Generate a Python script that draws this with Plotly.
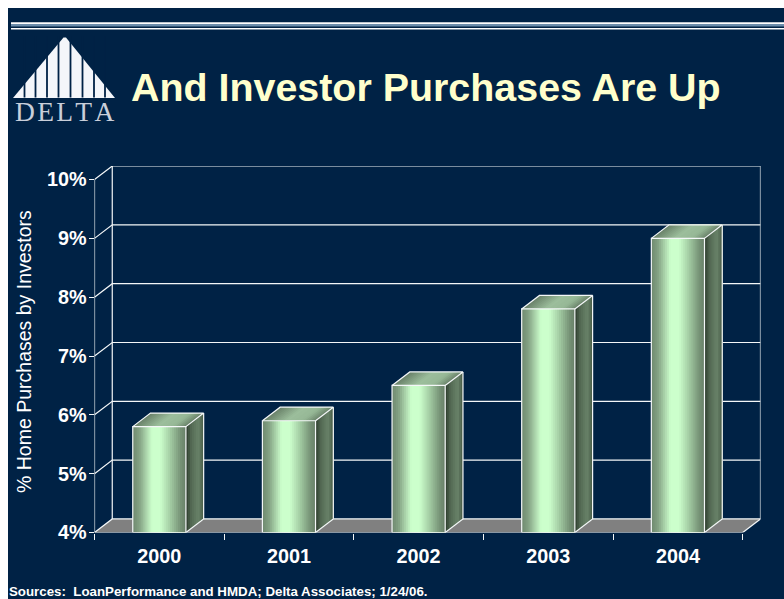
import plotly.graph_objects as go

W, H = 784, 599
NAVY = "#002245"
LINE = "#F4F7F8"

# Chart data
years = ["2000", "2001", "2002", "2003", "2004"]
investor_share = [5.8, 5.9, 6.5, 7.8, 9.0]
y_ticks = [4, 5, 6, 7, 8, 9, 10]
y_tick_labels = ["4%", "5%", "6%", "7%", "8%", "9%", "10%"]

# Oblique projection of the chart box, in axis units
BAR_WIDTH = 0.41
DEPTH_X = 0.137
DEPTH_Y = 0.23
X_MIN, X_MAX = -0.5, 4.5
Y_MIN = 4

# Shade stops along each bar face: (position, rgb)
FRONT = [(0, (112, 138, 112)), (0.12, (130, 160, 130)), (0.36, (204, 255, 204)), (0.52, (204, 255, 204)),
         (0.72, (160, 200, 160)), (0.9, (118, 146, 118)), (1, (104, 128, 104))]
TOP = [(0, (104, 128, 104)), (0.45, (156, 190, 156)), (0.75, (150, 184, 150)), (1, (106, 130, 106))]
SIDE = [(0, (44, 58, 44)), (0.3, (84, 106, 84)), (0.7, (104, 130, 104)), (1, (72, 92, 72))]


def shade(stops, t):
    for (t0, c0), (t1, c1) in zip(stops, stops[1:]):
        if t <= t1:
            f = (t - t0) / (t1 - t0)
            return "rgb(%d,%d,%d)" % tuple(round(a + (b - a) * f) for a, b in zip(c0, c1))
    return "rgb(%d,%d,%d)" % stops[-1][1]


def polygon(fig, xs, ys, color):
    fig.add_trace(go.Scatter(x=xs, y=ys, mode="lines", fill="toself", fillcolor=color,
                             line=dict(width=0), hoverinfo="skip", showlegend=False))


def polyline(fig, xs, ys, color=LINE, width=1.2):
    fig.add_trace(go.Scatter(x=xs, y=ys, mode="lines", line=dict(color=color, width=width),
                             hoverinfo="skip", showlegend=False))


def px(x):
    return x / W


def py(y):
    return 1 - y / H


fig = go.Figure()

# Back wall grid, left wall diagonals and front axes
back_right = X_MAX + DEPTH_X
back_left = X_MIN + DEPTH_X
polygon(fig, [X_MIN, X_MAX, back_right, back_left, X_MIN],
        [Y_MIN, Y_MIN, Y_MIN + DEPTH_Y, Y_MIN + DEPTH_Y, Y_MIN], "#808080")
for v in y_ticks:
    polyline(fig, [X_MIN, back_left, back_right], [v, v + DEPTH_Y, v + DEPTH_Y])
polyline(fig, [back_left, back_left], [Y_MIN + DEPTH_Y, 10 + DEPTH_Y])
polyline(fig, [back_right, back_right], [Y_MIN + DEPTH_Y, 10 + DEPTH_Y])
polyline(fig, [X_MIN, X_MIN], [Y_MIN, 10])
polyline(fig, [X_MAX, back_right], [Y_MIN, Y_MIN + DEPTH_Y])

# Bars: each face is painted left to right, every strip running to the far edge of the face
FRONT_STRIPS, TOP_STRIPS, SIDE_STRIPS = 27, 20, 9
for i, value in enumerate(investor_share):
    left, right = i - BAR_WIDTH / 2, i + BAR_WIDTH / 2
    step = BAR_WIDTH / FRONT_STRIPS
    for k in range(FRONT_STRIPS):
        x0 = left + k * step
        polygon(fig, [x0, right, right, x0, x0], [Y_MIN, Y_MIN, value, value, Y_MIN],
                shade(FRONT, (k + 0.5) / FRONT_STRIPS))
    step = BAR_WIDTH / TOP_STRIPS
    for k in range(TOP_STRIPS):
        x0 = left + k * step
        polygon(fig, [x0, right, right + DEPTH_X, x0 + DEPTH_X, x0],
                [value, value, value + DEPTH_Y, value + DEPTH_Y, value],
                shade(TOP, (k + 0.5) / TOP_STRIPS))
    side_x, side_low, side_high = right + DEPTH_X, Y_MIN + DEPTH_Y, value + DEPTH_Y
    for k in range(SIDE_STRIPS):
        t0 = k / SIDE_STRIPS
        polygon(fig,
                [right + t0 * DEPTH_X, side_x, side_x, right + t0 * DEPTH_X, right + t0 * DEPTH_X],
                [Y_MIN + t0 * DEPTH_Y, side_low, side_high, value + t0 * DEPTH_Y, Y_MIN + t0 * DEPTH_Y],
                shade(SIDE, (k + 0.5) / SIDE_STRIPS))
    # Edge highlights
    polyline(fig, [left, left, right, right, left], [Y_MIN, value, value, Y_MIN, Y_MIN])
    polyline(fig, [left, left + DEPTH_X, right + DEPTH_X, right],
             [value, value + DEPTH_Y, value + DEPTH_Y, value])
    polyline(fig, [right + DEPTH_X, right + DEPTH_X, right],
             [value + DEPTH_Y, Y_MIN + DEPTH_Y, Y_MIN])

# Front floor edge sits above the bars
polyline(fig, [X_MIN, X_MAX], [Y_MIN, Y_MIN])

shapes = [
    # Slide background and header rules
    dict(type="rect", xref="paper", yref="paper", x0=px(8), x1=1, y0=0, y1=py(8),
         fillcolor=NAVY, line_width=0, layer="below"),
    dict(type="rect", xref="paper", yref="paper", x0=px(11), x1=1, y0=py(24), y1=py(22.2),
         fillcolor="white", line_width=0, layer="below"),
    dict(type="rect", xref="paper", yref="paper", x0=px(11), x1=1, y0=py(26.4), y1=py(24),
         fillcolor="#6C8DAB", line_width=0, layer="below"),
    dict(type="rect", xref="paper", yref="paper", x0=px(11), x1=1, y0=py(29.4), y1=py(28),
         fillcolor="white", line_width=0, layer="below"),
    # Logo triangle with its vertical slots
    dict(type="path", xref="paper", yref="paper", layer="below", line_width=0, fillcolor="#F4F6FA",
         path="M %f %f L %f %f L %f %f L %f %f L %f %f Z" % (
             px(13), py(98), px(63.5), py(37.5), px(66), py(37.5), px(115), py(98), px(13), py(98))),
]
for slot_x in [24.5, 35.5, 47, 58.5, 70.5, 82.5, 94, 105]:
    shapes.append(dict(type="line", xref="paper", yref="paper", layer="below",
                       x0=px(slot_x), x1=px(slot_x), y0=py(36), y1=py(97.5),
                       line=dict(color=NAVY, width=1.8)))

TICK_FONT = dict(family="Liberation Sans", size=19.8, color="white", weight="bold")

annotations = [
    dict(text="And Investor Purchases Are Up", xref="paper", yref="paper", x=px(128.5), y=py(87),
         xanchor="left", yanchor="middle", showarrow=False,
         font=dict(family="Liberation Sans", size=39.4, color="#FFFFCC", weight="bold")),
    dict(text="D\u200aE\u200aL\u200aT\u200aA", xref="paper", yref="paper", x=px(64.5), y=py(111.5),
         xanchor="center", yanchor="middle", showarrow=False,
         font=dict(family="Liberation Serif", size=27.5, color="#C9CFDA")),
    dict(text="Sources:\u00a0 LoanPerformance and HMDA; Delta Associates; 1/24/06.", xref="paper", yref="paper",
         x=px(6.5), y=py(591), xanchor="left", yanchor="middle", showarrow=False,
         font=dict(family="Liberation Sans", size=13.3, color="white", weight="bold")),
    dict(text="% Home Purchases by Investors", xref="paper", yref="paper", x=px(24), y=py(352),
         xanchor="center", yanchor="middle", textangle=-90, showarrow=False,
         font=dict(family="Liberation Sans", size=19.5, color="white")),
]

fig.update_layout(
    width=W, height=H, autosize=False,
    margin=dict(l=0, r=0, t=0, b=0),
    paper_bgcolor="white", plot_bgcolor="rgba(0,0,0,0)",
    shapes=shapes, annotations=annotations,
    showlegend=False,
    xaxis=dict(
        automargin=False,
        domain=[px(94.5), px(760.5)], range=[X_MIN, X_MAX + DEPTH_X],
        tickmode="array", tickvals=list(range(len(years))), ticktext=years,
        ticks="", showgrid=False, zeroline=False, showline=False, fixedrange=True,
        tickfont=TICK_FONT, ticklabelstandoff=10,
        minor=dict(tick0=X_MIN, dtick=1, ticks="outside", ticklen=6, tickcolor=LINE, tickwidth=1, showgrid=False),
    ),
    yaxis=dict(
        automargin=False,
        domain=[py(532.5), py(166)], range=[Y_MIN, 10 + DEPTH_Y],
        tickmode="array", tickvals=y_ticks, ticktext=y_tick_labels,
        ticks="outside", ticklen=5, tickcolor=LINE, tickwidth=1,
        showgrid=False, zeroline=False, showline=False, fixedrange=True,
        tickfont=TICK_FONT, ticklabelstandoff=-2,
    ),
)

fig.write_html("out.html", config=dict(displayModeBar=False))
